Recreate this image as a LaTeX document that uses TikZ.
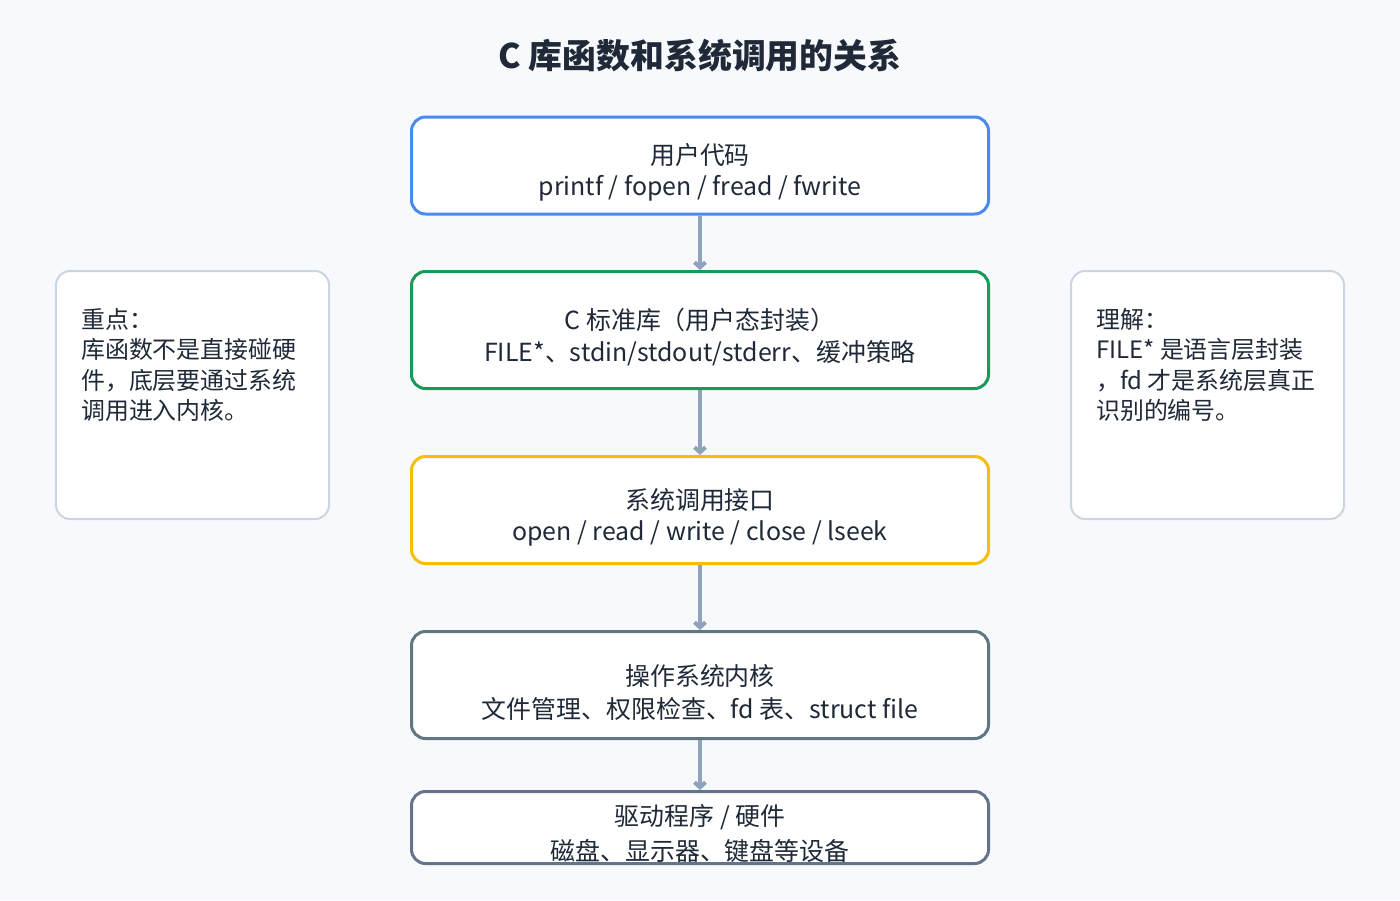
\documentclass[tikz,border=0pt]{standalone}
\usepackage{fontspec}
\setmainfont{Noto Sans CJK SC}
\usetikzlibrary{arrows.meta}
\definecolor{bg}{HTML}{F7F9FC}
\definecolor{txt}{HTML}{1F2937}
\definecolor{cblue}{HTML}{4A8AF0}
\definecolor{cgreen}{HTML}{1A9A58}
\definecolor{cyellow}{HTML}{F5BE0B}
\definecolor{cslate}{HTML}{5E7783}
\definecolor{cgray}{HTML}{64748B}
\definecolor{cside}{HTML}{CBD5E1}
\definecolor{carrow}{HTML}{8FA3BF}
\begin{document}
\begin{tikzpicture}[x=1bp,y=-1bp,
  box/.style={draw,line width=3bp,fill=white,rounded corners=14bp,minimum width=577bp,inner sep=0pt},
  side/.style={draw=cside,line width=2bp,fill=white,rounded corners=14bp,minimum width=273bp,minimum height=248bp,inner sep=0pt},
  t/.style={text=txt,font=\fontsize{25}{30}\selectfont,inner sep=0pt},
  st/.style={text=txt,font=\fontsize{24}{30.5}\selectfont,align=left,anchor=north west,inner sep=0pt},
  arr/.style={draw=carrow,line width=4bp,-{Straight Barb[length=5bp,width=11bp]}}]
\fill[bg] (0,0) rectangle (1400,900);
\node[text=txt,font=\fontsize{34}{40}\selectfont\bfseries,inner sep=0pt] (title) at (700,56) {C 库函数和系统调用的关系};
\node[box,draw=cblue,minimum height=97bp] (b1) at (700,165.5) {};
\node[box,draw=cgreen,minimum height=117bp] (b2) at (700,330) {};
\node[box,draw=cyellow,minimum height=107bp] (b3) at (700,510) {};
\node[box,draw=cslate,minimum height=107bp] (b4) at (700,685) {};
\node[t] (l1a) at (700,155) {用户代码};
\node[t] (l1b) at (700,188) {printf / fopen / fread / fwrite};
\node[t] (l2a) at (700,320) {C 标准库（用户态封装）};
\node[t] (l2b) at (700,353) {FILE*、stdin/stdout/stderr、缓冲策略};
\node[t] (l3a) at (700,500) {系统调用接口};
\node[t] (l3b) at (700,533) {open / read / write / close / lseek};
\node[t] (l4a) at (700,676) {操作系统内核};
\node[t] (l4b) at (700,709) {文件管理、权限检查、fd 表、struct file};
\node[box,fill=white,draw=none,minimum height=72bp] (b5f) at (700,827.5) {};
\node[t] (l5a) at (700,817) {驱动程序 / 硬件};
\node[t] (l5b) at (700,851) {磁盘、显示器、键盘等设备};
\node[box,draw=cgray,fill=none,minimum height=72bp] (b5) at (700,827.5) {};
\draw[arr] (b1.south) -- (b2.north);
\draw[arr] (b2.south) -- (b3.north);
\draw[arr] (b3.south) -- (b4.north);
\draw[arr] (b4.south) -- (b5.north);
\node[side] (sl) at (192.5,395) {};
\node[side] (sr) at (1207.5,395) {};
\node[st] (tl) at (81,308) {重点：\\库函数不是直接碰硬\\件，底层要通过系统\\调用进入内核。};
\node[st] (tr) at (1096,308) {理解：\\FILE* 是语言层封装\\，fd 才是系统层真正\\识别的编号。};
\end{tikzpicture}
\end{document}
